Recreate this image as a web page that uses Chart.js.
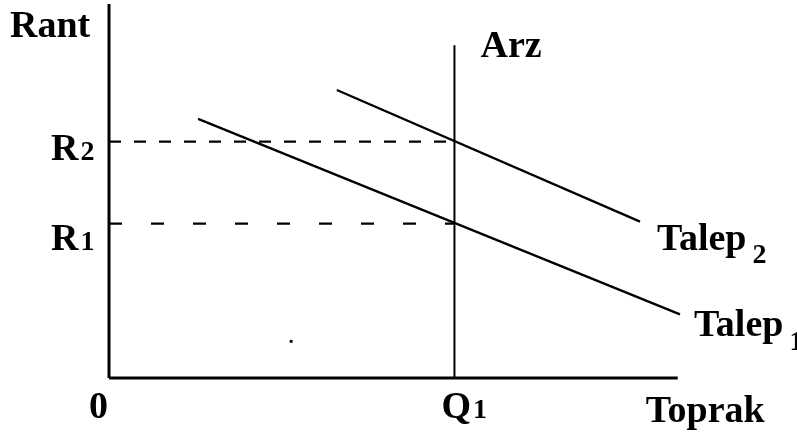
<!DOCTYPE html>
<html>
<head>
<meta charset="utf-8">
<script src="https://cdn.jsdelivr.net/npm/chart.js@4/dist/chart.umd.min.js"></script>
<style>
  html, body { margin: 0; padding: 0; background: #fff; }
  #wrap { position: relative; width: 797px; height: 434px; }
</style>
</head>
<body>
<div id="wrap"><canvas id="c"></canvas></div>
<script>
// ---- data (axis units: 0..100 on both axes) ----
const talep1X = [15.6, 100.0];
const talep1Y = [69.3, 17.0];
const talep2X = [39.9, 93.0];
const talep2Y = [77.0, 41.8];
const arzX = [60.5, 60.5];
const arzY = [0, 89];
const rentLevels = [41.3, 63.2];          // R1, R2
const yTickLabels = [['R', '1'], ['R', '2']];
const xTickValues = [0, 60.5];
const xTickLabels = [['0', ''], ['Q', '1']];
const axisTitleY = 'Rant';
const axisTitleX = 'Toprak';
const supplyLabel = 'Arz';
const demandLabels = [['Talep', '1'], ['Talep', '2']];
const strayDotX = [31.9];
const strayDotY = [9.8];

function pts(xs, ys) { return xs.map((x, i) => ({ x: x, y: ys[i] })); }

const FONT = '"Liberation Serif", "Times New Roman", serif';

function drawRich(ctx, main, sub, x, baseline, subDy) {
  ctx.font = 'bold 38px ' + FONT;
  ctx.fillText(main, x, baseline);
  const w = ctx.measureText(main).width;
  if (sub) {
    ctx.font = 'bold 28px ' + FONT;
    ctx.fillText(sub, x + w + (subDy ? 6 : 2), baseline + (subDy || 0));
  }
}

const labelPlugin = {
  id: 'labels',
  afterDraw(chart) {
    const ctx = chart.ctx;
    const xs = chart.scales.x, ys = chart.scales.y;
    const area = chart.chartArea;
    ctx.save();
    ctx.fillStyle = '#000';
    ctx.textBaseline = 'alphabetic';
    ctx.textAlign = 'left';
    // axis titles
    drawRich(ctx, axisTitleY, '', area.left - 99, area.top + 33);
    drawRich(ctx, axisTitleX, '', xs.getPixelForValue(94), area.bottom + 44);
    // y tick labels
    const yOff = [26, 18];
    rentLevels.forEach((v, i) => {
      drawRich(ctx, yTickLabels[i][0], yTickLabels[i][1], area.left - 58, ys.getPixelForValue(v) + yOff[i]);
    });
    // x tick labels
    const xOff = [-20, -13];
    xTickValues.forEach((v, i) => {
      drawRich(ctx, xTickLabels[i][0], xTickLabels[i][1], xs.getPixelForValue(v) + xOff[i], area.bottom + 40);
    });
    // supply label
    drawRich(ctx, supplyLabel, '', xs.getPixelForValue(arzX[1]) + 26, ys.getPixelForValue(arzY[1]) + 12);
    // demand labels
    drawRich(ctx, demandLabels[1][0], demandLabels[1][1],
      xs.getPixelForValue(talep2X[1]) + 17, ys.getPixelForValue(talep2Y[1]) + 28, 13);
    drawRich(ctx, demandLabels[0][0], demandLabels[0][1],
      xs.getPixelForValue(talep1X[1]) + 14, ys.getPixelForValue(talep1Y[1]) + 22, 14);
    ctx.restore();
  }
};

const lineDs = (data, width, dash) => ({
  data: data, showLine: true, borderColor: '#000', backgroundColor: '#000',
  borderWidth: width, borderDash: dash || [], pointRadius: 0, clip: false,
  borderCapStyle: 'butt', tension: 0
});

new Chart(document.getElementById('c'), {
  type: 'scatter',
  data: {
    datasets: [
      lineDs(pts([0, 99.6], [0, 0]), 3),
      lineDs(pts([0, 0], [0, 100]), 3),
      lineDs(pts(arzX, arzY), 2),
      lineDs(pts([0, arzX[0]], [rentLevels[1], rentLevels[1]]), 2.3, [12, 13]),
      lineDs(pts([0, arzX[0]], [rentLevels[0], rentLevels[0]]), 2.3, [13, 29]),
      lineDs(pts(talep1X, talep1Y), 2.3),
      lineDs(pts(talep2X, talep2Y), 2.3),
      { data: pts(strayDotX, strayDotY), pointRadius: 2, pointStyle: 'rect',
        backgroundColor: '#000', borderColor: '#000', borderWidth: 0, clip: false }
    ]
  },
  options: {
    responsive: true,
    maintainAspectRatio: false,
    animation: false,
    devicePixelRatio: 1,
    layout: { padding: { left: 109, right: 117, top: 0, bottom: 56 } },
    plugins: { legend: { display: false }, tooltip: { enabled: false } },
    scales: {
      x: { type: 'linear', min: 0, max: 100, display: false },
      y: { type: 'linear', min: 0, max: 100, display: false }
    }
  },
  plugins: [labelPlugin]
});
</script>
</body>
</html>
